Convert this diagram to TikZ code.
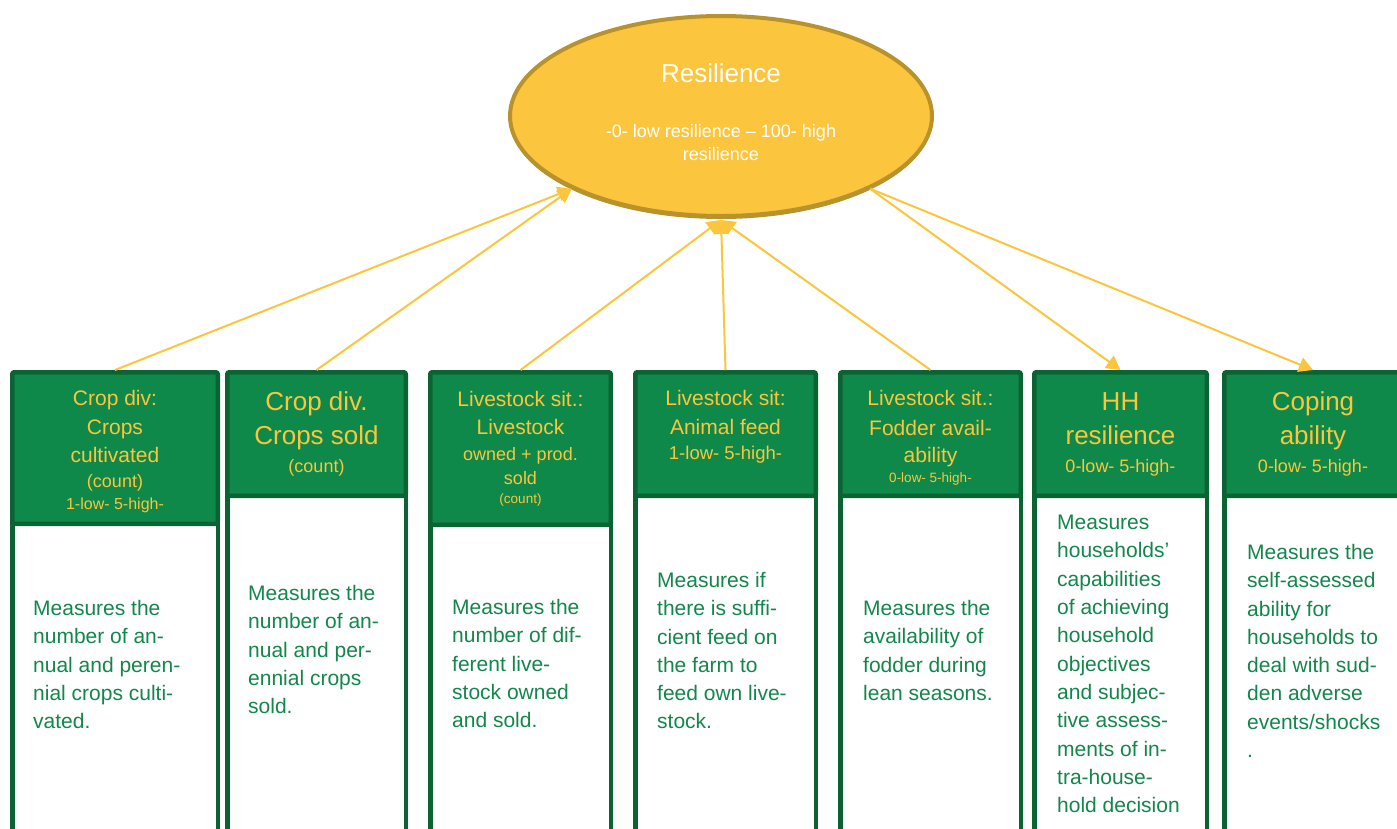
\documentclass[tikz,border=0pt]{standalone}
\usepackage{fontspec}
\setmainfont{Liberation Sans}
\usetikzlibrary{shapes.geometric,arrows.meta,shadows}
\definecolor{resyellow}{HTML}{FBC53D}
\definecolor{resgold}{HTML}{B8922C}
\definecolor{headgreen}{HTML}{0F894A}
\definecolor{edgegreen}{HTML}{0B6333}
\definecolor{textgreen}{HTML}{13874B}
\newcommand{\setfsz}[1]{\fontsize{#1}{#1}\selectfont}
\tikzset{
  head/.style={draw=edgegreen, fill=headgreen, line width=4.5pt, rounded corners=2pt,
    inner sep=0pt, align=center, text=resyellow, font=\fontsize{21}{28}\selectfont},
  bighead/.style={head, font=\fontsize{26}{34}\selectfont},
  bodybox/.style={draw=edgegreen, fill=white, line width=4.5pt, inner sep=0pt,
    anchor=north, minimum height=400pt},
  desc/.style={anchor=north west, inner sep=0pt, align=left, text=textgreen,
    font=\fontsize{21}{28.3}\selectfont},
  link/.style={draw=resyellow, line width=2pt, -{Triangle[length=14pt,width=15pt]}},
}
\begin{document}
\begin{tikzpicture}[x=1pt,y=-1pt]
\useasboundingbox (0,0) rectangle (1397,828);
\clip (0,0) rectangle (1397,828);

% white description panels
\node[bodybox, minimum width=205.5pt] (d1) at (115,521.5) {};
\node[bodybox, minimum width=178.5pt] (d2) at (316.5,493.5) {};
\node[bodybox, minimum width=180.5pt] (d3) at (520.5,522.5) {};
\node[bodybox, minimum width=180.5pt] (d4) at (725.5,493.5) {};
\node[bodybox, minimum width=180.5pt] (d5) at (930.5,493.5) {};
\node[bodybox, minimum width=172.5pt] (d6) at (1120.5,493.5) {};
\node[bodybox, minimum width=177.5pt] (d7) at (1313,493.5) {};

% green indicator headers
\node[head, minimum width=205.5pt, minimum height=151.5pt] (b1) at (115,448)
  {\rule{0pt}{23pt}Crop div:\\[1pt]Crops\\cultivated\\[-3pt]{\setfsz{18}(count)}\\[-6pt]{\setfsz{16}1-low- 5-high-}};
\node[bighead, minimum width=178.5pt, minimum height=123.5pt] (b2) at (316.5,434)
  {Crop div.\\Crops sold\\[-6pt]{\setfsz{18}(count)}};
\node[head, minimum width=180.5pt, minimum height=152.5pt] (b3) at (520.5,448.5)
  {Livestock sit.:\\Livestock\\[-2pt]{\setfsz{18}owned + prod.}\\[-4pt]{\setfsz{18}sold}\\[-8.6pt]{\setfsz{13.5}(count)}};
\node[head, minimum width=180.5pt, minimum height=123.5pt] (b4) at (725.5,434)
  {Livestock sit:\\[1pt]Animal feed\\[-3pt]{\setfsz{18.5}1-low- 5-high-}\rule[-18pt]{0pt}{1pt}};
\node[head, minimum width=180.5pt, minimum height=123.5pt] (b5) at (930.5,434)
  {\rule{0pt}{23pt}Livestock sit.:\\[2pt]Fodder avail-\\[-1pt]ability\\[-7.7pt]{\setfsz{13.5}0-low- 5-high-}};
\node[bighead, minimum width=172.5pt, minimum height=123.5pt] (b6) at (1120.5,434)
  {HH\\resilience\\[-6pt]{\setfsz{18}0-low- 5-high-}};
\node[bighead, minimum width=177.5pt, minimum height=123.5pt] (b7) at (1313,434)
  {Coping\\ability\\[-6pt]{\setfsz{18}0-low- 5-high-}};

% descriptions
\node[desc] (t1) at (33,600) {Measures the\\number of an-\\nual and peren-\\nial crops culti-\\vated.};
\node[desc] (t2) at (248,585) {Measures the\\number of an-\\nual and per-\\ennial crops\\sold.};
\node[desc] (t3) at (452,599) {Measures the\\number of dif-\\ferent live-\\stock owned\\and sold.};
\node[desc] (t4) at (657,572) {Measures if\\there is suffi-\\cient feed on\\the farm to\\feed own live-\\stock.};
\node[desc] (t5) at (863,600) {Measures the\\availability of\\fodder during\\lean seasons.};
\node[desc] (t6) at (1057,515) {Measures\\households’\\capabilities\\of achieving\\household\\objectives\\and subjec-\\tive assess-\\ments of in-\\tra-house-\\hold decision};
\node[desc] (t7) at (1247,544) {Measures the\\self-assessed\\ability for\\households to\\deal with sud-\\den adverse\\events/shocks\\.};

% overall resilience index
\node[ellipse, draw=resgold, fill=resyellow, line width=4pt, minimum width=422pt,
  minimum height=200pt, inner sep=0pt, text=white, align=center,
  drop shadow={shadow xshift=0pt, shadow yshift=-3pt, fill=resgold, opacity=1},
  font=\fontsize{18}{23}\selectfont] (res) at (721,116)
  {{\setfsz{26}Resilience}\\[32pt]-0- low resilience – 100- high\\resilience\rule[-8pt]{0pt}{8pt}};

% links between indicators and the index
\draw[link] (b1.north) -- (res.206);
\draw[link] (b2.north) -- (res.206);
\draw[link] (b3.north) -- ([yshift=-2pt]res.south);
\draw[link] (b4.north) -- ([yshift=-2pt]res.south);
\draw[link] (b5.north) -- ([yshift=-2pt]res.south);
\draw[link] (res.-26) -- (b6.north);
\draw[link] (res.-26) -- (b7.north);
\end{tikzpicture}
\end{document}
